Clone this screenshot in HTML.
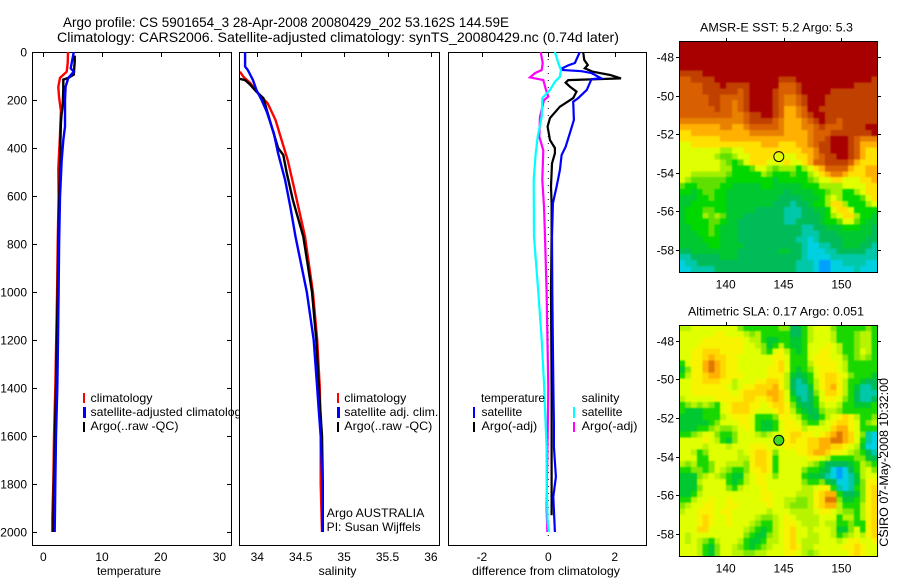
<!DOCTYPE html>
<html>
<head>
<meta charset="utf-8">
<title>Argo profile chart</title>
<style>
html,body{margin:0;padding:0;background:#fff;}
svg{display:block;}
text{font-family:"Liberation Sans",sans-serif;font-size:12px;fill:#000;}
.title{font-size:14px;}
</style>
</head>
<body>
<svg id="chart" xmlns="http://www.w3.org/2000/svg" width="900" height="580" viewBox="0 0 900 580">
<defs>
<clipPath id="clip-temp"><rect x="33" y="52" width="198" height="493"/></clipPath>
<clipPath id="clip-sal"><rect x="240" y="52" width="199" height="493"/></clipPath>
<clipPath id="clip-diff"><rect x="449" y="52" width="197" height="493"/></clipPath>
<clipPath id="clip-map-sst"><rect x="680" y="41" width="198" height="231"/></clipPath>
<clipPath id="clip-map-sla"><rect x="680" y="325" width="198" height="231"/></clipPath>
</defs>
<text class="title" x="63" y="27" textLength="446" lengthAdjust="spacingAndGlyphs">Argo profile: CS 5901654_3 28-Apr-2008 20080429_202 53.162S 144.59E</text>
<text class="title" x="57" y="42" textLength="562" lengthAdjust="spacingAndGlyphs">Climatology: CARS2006. Satellite-adjusted climatology: synTS_20080429.nc (0.74d later)</text>

<g id="panel-temp"></g>
<g id="legend-temp">
<rect x="83" y="393" width="2" height="10" fill="#ff0000"/>
<rect x="83" y="407" width="3" height="11" fill="#0000ff"/>
<rect x="83" y="422" width="2" height="10" fill="#000"/>
<text x="90.5" y="402" textLength="62" lengthAdjust="spacingAndGlyphs">climatology</text>
<text x="90.5" y="416" textLength="157" lengthAdjust="spacingAndGlyphs">satellite-adjusted climatology</text>
<text x="90.5" y="430" textLength="88" lengthAdjust="spacingAndGlyphs">Argo(..raw -QC)</text>
</g>
<text x="97" y="575" textLength="64" lengthAdjust="spacingAndGlyphs">temperature</text>

<g id="panel-sal"></g>
<g id="legend-sal">
<rect x="337" y="393" width="2" height="10" fill="#ff0000"/>
<rect x="337" y="407" width="3" height="11" fill="#0000ff"/>
<rect x="337" y="422" width="2" height="10" fill="#000"/>
<text x="344.3" y="402" textLength="62" lengthAdjust="spacingAndGlyphs">climatology</text>
<text x="344.3" y="416" textLength="94" lengthAdjust="spacingAndGlyphs">satellite adj. clim.</text>
<text x="344.3" y="430" textLength="88" lengthAdjust="spacingAndGlyphs">Argo(..raw -QC)</text>
<text x="326.7" y="517" textLength="97.7" lengthAdjust="spacingAndGlyphs">Argo AUSTRALIA</text>
<text x="326.7" y="531" textLength="94" lengthAdjust="spacingAndGlyphs">PI: Susan Wijffels</text>
</g>
<text x="318.5" y="575" textLength="38" lengthAdjust="spacingAndGlyphs">salinity</text>

<g id="panel-diff"></g>
<g id="legend-diff">
<text x="481" y="402" textLength="64" lengthAdjust="spacingAndGlyphs">temperature</text>
<text x="581.7" y="402" textLength="37.7" lengthAdjust="spacingAndGlyphs">salinity</text>
<rect x="473" y="407" width="2" height="11" fill="#0000ff"/>
<rect x="473" y="422" width="2" height="10" fill="#000"/>
<rect x="573" y="407" width="2" height="11" fill="#00ffff"/>
<rect x="573" y="422" width="2" height="10" fill="#ff00ff"/>
<text x="481.5" y="416" textLength="40.7" lengthAdjust="spacingAndGlyphs">satellite</text>
<text x="481.5" y="430" textLength="55.7" lengthAdjust="spacingAndGlyphs">Argo(-adj)</text>
<text x="581.7" y="416" textLength="40.7" lengthAdjust="spacingAndGlyphs">satellite</text>
<text x="581.7" y="430" textLength="55.7" lengthAdjust="spacingAndGlyphs">Argo(-adj)</text>
</g>
<text x="472" y="575" textLength="148" lengthAdjust="spacingAndGlyphs">difference from climatology</text>

<text x="700" y="31.5" textLength="153" lengthAdjust="spacingAndGlyphs">AMSR-E SST: 5.2 Argo: 5.3</text>
<g id="map-sst"></g>
<text x="688" y="315.5" textLength="176" lengthAdjust="spacingAndGlyphs">Altimetric SLA: 0.17 Argo: 0.051</text>
<g id="map-sla"></g>
<text transform="translate(888,546.7) rotate(-90)" x="0" y="0" textLength="168.7" lengthAdjust="spacingAndGlyphs">CSIRO 07-May-2008 10:32:00</text>
</svg>

<script>
const depthTicks = [0,200,400,600,800,1000,1200,1400,1600,1800,2000];
const tempTicks = [0,10,20,30];
const salTicks = [34,34.5,35,35.5,36];
const salTickLabels = ['34','34.5','35','35.5','36'];
const diffTicks = [-2,0,2];
const lonTicks = [140,145,150];
const latTicks = [-48,-50,-52,-54,-56,-58];

const tempClimDepth = [0,47,82,108,145,186,245,347,485,600,800,1000,1200,1400,1600,1800,1940,2000];
const tempClimValues = [4.2,4.15,3.98,2.85,2.56,2.67,3.0,2.85,2.56,2.6,2.45,2.35,2.2,2.05,1.82,1.7,1.53,1.53];
const tempArgoDepth = [15,40,94,108,115,156,226,260,295,392,485,600,800,1000,1200,1400,1600,1800,2000];
const tempArgoValues = [5.35,5.35,5.2,4.26,3.4,3.4,3.3,3.1,3.0,2.9,2.85,2.73,2.55,2.45,2.3,2.16,2.0,1.77,1.7];
const tempSatDepth = [0,68,82,108,145,200,311,367,450,603,800,1000,1200,1400,1600,1800,2000];
const tempSatValues = [5.2,4.67,5.2,4.26,3.8,3.7,3.7,3.4,3.13,2.85,2.7,2.6,2.5,2.39,2.17,2.05,1.94];

const salClimDepth = [82,103,130,172,214,283,367,450,561,672,769,1000,1200,1400,1600,1800,2000];
const salClimValues = [33.8,33.84,33.92,34.01,34.12,34.21,34.28,34.35,34.42,34.49,34.55,34.64,34.69,34.72,34.73,34.73,34.745];
const salArgoDepth = [112,117,137,165,192,242,317,400,429,505,617,769,1000,1200,1400,1600,1800,2000];
const salArgoValues = [33.8,33.86,33.92,33.99,34.07,34.11,34.17,34.24,34.3,34.34,34.41,34.53,34.63,34.68,34.71,34.745,34.755,34.755];
const salSatDepth = [0,61,75,117,158,200,249,338,422,533,644,769,1000,1200,1400,1500,1600,1800,2000];
const salSatValues = [33.86,33.86,33.89,33.95,33.99,34.05,34.11,34.19,34.24,34.32,34.38,34.44,34.57,34.65,34.69,34.71,34.73,34.75,34.75];

const diffZeroDepth = [0,2040];
const diffZeroValues = [0,0];
const diffSalArgoDepth = [0,46,75,88,106,117,158,186,200,269,353,410,533,644,769,1000,1400,1900,2000];
const diffSalArgoValues = [-0.23,-0.17,-0.2,-0.4,-0.55,-0.15,-0.07,0,-0.13,-0.25,-0.27,-0.15,-0.18,-0.13,-0.1,-0.05,0,-0.05,-0.03];
const diffSalSatDepth = [0,46,75,103,124,158,192,269,353,422,533,769,1000,1200,1380,1547,1645,1770,1960,2000];
const diffSalSatValues = [0.2,0.3,0.38,0.35,0.2,0.05,-0.18,-0.2,-0.32,-0.38,-0.44,-0.43,-0.3,-0.2,-0.13,-0.08,-0.05,-0.05,-0.02,0.02];
const diffTempArgoDepth = [0,33,54,68,82,96,110,117,128,144,165,192,228,275,311,367,400,422,464,561,630,769,1000,1400,1800,1930];
const diffTempArgoValues = [1.05,1.08,1.19,1.1,1.34,1.86,2.19,0.6,0.52,0.65,0.85,0.75,0.35,0.05,-0.02,0.05,0.2,0.2,0.11,0.08,0.1,0.1,0.08,0.1,0.1,0.1];
const diffTempSatDepth = [0,46,56,68,75,80,88,109,113,158,192,207,283,338,395,429,492,561,630,769,1000,1381,1547,1645,1770,1853,2000];
const diffTempSatValues = [0.95,0.8,0.6,0.42,0.42,1.0,1.3,1.59,1.3,1.16,0.9,0.75,0.77,0.65,0.52,0.4,0.35,0.25,0.14,0.11,0.12,0.15,0.17,0.17,0.23,0.15,0.2];

const sstLevelColors = ['#00a0ff','#00d0e0','#00c8a8','#00bc58','#00c830','#00d800','#60e000','#a0f000','#e0ff00','#ffe000','#ffb000','#e88000','#d86000','#c04000','#a80000'];
const slaLevelColors = ['#00a0ff','#00d0e0','#00c8a8','#00bc58','#00c830','#18d800','#80e800','#b8f400','#e0ff00','#f8f400','#ffd800','#ffb000','#e07800','#c04000','#a80000'];

const sstValues = [
[14,14,14,14,14,14,14,14,14,14,14,14,14,14,14,14,14,14,14,14,14,14,14,14,14,14,14,14,14,14,14,14,14,14],
[14,14,14,14,14,14,14,14,14,14,14,14,14,14,14,14,14,14,14,14,14,14,14,14,14,14,14,14,14,14,14,14,14,14],
[14,14,14,14,14,14,14,14,14,14,14,14,14,14,14,14,14,14,14,14,14,14,14,14,14,14,14,14,14,14,14,14,14,14],
[14,14,14,14,14,14,14,14,14,14,14,14,14,14,14,14,14,14,14,14,14,14,14,14,14,14,14,14,14,14,14,14,14,14],
[14,14,14,14,14,14,14,14,14,14,14,14,14,14,14,14,14,14,14,14,14,14,14,14,14,14,14,14,14,14,14,14,14,14],
[13,13,13,13,14,14,14,14,14,14,14,14,14,14,14,14,14,14,14,14,14,14,14,14,14,14,14,14,14,14,14,14,14,14],
[12,12,13,13,13,13,14,14,14,14,14,14,14,14,14,14,14,13,13,13,14,14,14,14,14,14,14,14,14,14,14,14,14,13],
[12,12,12,12,13,13,13,14,13,13,13,13,14,14,14,14,14,12,12,12,13,14,14,14,14,14,14,14,14,14,13,13,13,13],
[12,12,12,12,13,13,13,13,13,13,12,13,14,14,14,14,13,12,12,12,13,14,14,14,14,14,13,13,13,13,13,13,13,13],
[12,12,12,12,12,13,13,12,12,12,12,13,14,14,14,14,13,12,11,11,12,13,14,14,14,13,13,13,13,13,13,13,13,13],
[12,12,12,12,12,13,13,12,12,11,12,13,14,14,14,14,13,12,11,11,12,13,14,14,14,13,13,13,13,13,13,13,13,13],
[12,12,12,12,12,12,13,12,12,11,12,13,14,14,14,14,13,12,10,10,11,12,14,14,13,13,13,13,13,13,13,13,13,13],
[12,12,12,12,12,12,12,12,12,11,11,12,13,13,14,14,13,12,10,10,11,12,13,14,14,13,13,13,13,13,13,13,13,13],
[11,11,11,11,11,11,11,11,11,11,11,12,13,13,13,13,12,11,10,10,10,11,12,13,14,13,13,12,13,13,13,13,13,13],
[10,10,10,10,10,10,10,11,11,10,10,11,12,12,12,12,12,11,10,10,10,11,11,12,13,12,12,12,13,13,13,13,14,14],
[9,9,10,10,10,10,10,10,10,10,10,10,11,11,11,11,11,11,10,10,10,10,11,12,12,12,13,13,13,13,13,13,13,14],
[9,9,9,9,9,9,9,10,10,10,10,10,10,10,10,10,10,10,10,10,10,10,11,12,12,13,14,14,14,13,12,11,11,11],
[8,8,9,9,9,9,9,9,9,9,9,9,9,9,10,10,10,9,9,9,10,10,11,12,13,13,14,14,14,13,12,10,10,10],
[8,8,8,8,8,8,8,7,7,8,8,9,9,9,9,9,9,9,9,9,9,10,10,11,13,13,14,14,14,13,12,10,9,9],
[8,8,8,8,8,8,7,6,6,7,8,8,9,9,9,9,8,8,8,8,9,9,10,11,12,13,13,14,14,13,12,10,9,9],
[8,8,8,8,8,8,8,7,6,5,6,8,9,9,9,8,8,8,9,8,8,9,10,12,12,13,13,13,13,12,10,9,9,9],
[8,8,8,8,8,8,8,7,7,5,5,5,6,8,8,7,6,7,7,7,5,7,8,9,10,12,12,12,12,10,9,9,10,10],
[8,8,7,7,7,7,7,7,6,5,5,5,5,5,7,6,5,5,5,6,5,5,7,8,9,10,11,11,10,9,9,9,10,10],
[8,7,6,6,6,6,6,6,5,5,5,5,5,5,5,5,4,5,5,5,5,5,6,7,8,8,9,9,8,8,8,9,9,10],
[6,5,5,6,6,6,6,5,5,4,4,4,4,4,5,5,4,4,4,4,4,5,5,5,7,7,7,7,8,8,8,8,9,9],
[5,5,4,5,6,6,5,5,4,4,4,4,4,4,4,4,4,4,3,4,4,4,4,5,5,6,7,7,5,5,7,8,9,9],
[4,4,4,5,5,6,5,5,4,4,4,4,4,4,4,4,4,3,3,3,3,4,4,4,5,7,8,7,5,5,5,6,8,9],
[4,4,5,5,5,5,5,5,4,4,4,4,4,4,4,4,3,3,3,2,3,3,4,5,5,7,9,9,7,5,5,5,7,8],
[4,5,5,5,6,6,5,5,4,4,4,4,4,3,3,3,3,3,2,2,2,3,3,4,4,5,8,9,9,8,5,5,5,5],
[4,5,5,5,7,6,7,6,4,4,4,3,3,3,3,3,3,3,2,2,2,3,3,3,4,5,7,8,9,9,7,5,5,4],
[4,5,5,5,5,6,6,5,4,4,3,3,3,3,3,3,3,3,2,2,3,3,3,3,4,5,5,6,8,8,6,5,4,4],
[4,4,5,5,5,6,5,4,4,4,3,3,3,3,3,3,3,3,3,3,3,2,2,3,3,4,4,4,5,5,5,4,4,3],
[4,4,4,5,5,6,5,4,4,4,3,3,3,3,3,3,3,3,3,3,3,2,2,2,3,3,3,4,4,4,4,4,4,3],
[4,4,4,4,5,5,5,4,4,4,3,3,3,3,3,3,3,3,3,3,2,2,1,2,3,3,3,3,4,4,4,4,3,3],
[4,4,4,4,4,5,5,4,4,4,4,3,3,3,3,3,3,3,3,3,3,2,1,1,2,2,3,3,4,4,4,3,3,2],
[3,3,4,4,4,4,4,4,4,4,3,3,3,3,3,3,3,4,4,3,3,2,1,1,1,2,2,3,3,3,3,3,2,2],
[2,2,3,3,3,3,3,4,4,4,3,3,3,3,3,3,3,3,3,3,3,2,1,1,1,1,2,2,2,2,2,2,2,2],
[1,2,2,3,3,3,3,3,3,3,3,3,3,3,3,3,3,3,3,3,2,2,2,1,0,0,1,1,2,2,2,2,1,1],
[1,1,2,2,2,2,3,3,3,3,3,3,3,3,3,3,3,3,3,3,2,2,2,1,0,0,1,1,1,1,2,1,1,1]
];

const slaValues = [
[7,7,8,8,8,8,8,8,8,8,6,5,5,5,5,5,5,6,6,3,3,5,7,8,8,8,6,5,5,5,5,5,6,5],
[8,8,8,8,8,8,9,9,8,8,8,7,6,7,5,5,5,5,5,3,3,5,7,8,8,8,7,5,5,5,6,7,7,5],
[8,8,8,8,9,9,9,9,9,9,9,8,7,7,5,4,4,5,5,4,4,5,7,8,8,8,7,5,5,5,6,7,7,5],
[8,8,8,9,9,9,9,9,9,9,9,8,8,7,6,4,5,7,5,4,4,5,8,8,8,9,8,7,5,5,6,7,7,5],
[8,8,9,9,10,10,10,9,9,9,9,8,8,8,6,5,8,9,7,5,4,5,8,8,9,9,8,7,5,5,6,8,7,5],
[8,8,9,9,10,11,10,10,9,9,8,8,8,8,8,8,9,9,8,5,5,5,8,9,9,9,8,8,6,5,6,7,6,5],
[5,8,9,9,11,12,11,10,9,9,8,8,8,8,8,8,9,10,8,5,5,5,7,9,9,9,9,8,7,5,5,5,5,5],
[4,6,9,9,11,12,11,10,9,9,8,8,8,8,8,9,9,10,8,5,4,5,6,8,9,9,9,8,7,5,5,5,5,5],
[5,7,9,9,10,11,11,10,9,9,9,8,8,8,8,9,9,9,7,4,3,4,5,8,9,10,10,9,8,6,5,5,5,4],
[8,8,9,9,10,10,10,9,9,7,8,8,8,9,9,10,10,9,7,3,2,3,5,7,9,10,10,9,7,5,5,4,3,3],
[8,8,9,9,9,9,9,9,8,7,8,9,9,10,10,10,11,9,7,3,2,2,4,7,9,10,11,9,7,5,4,2,2,3],
[8,8,9,9,9,9,9,9,9,8,9,10,10,10,10,11,11,10,8,4,2,2,3,6,8,10,10,9,7,5,3,2,2,2],
[7,8,8,8,8,8,9,9,9,9,9,10,10,9,9,10,11,10,8,5,3,2,3,5,8,9,9,8,6,5,3,2,2,3],
[5,6,7,6,7,6,5,8,9,10,10,10,9,9,8,9,10,10,9,6,4,3,3,5,7,8,8,7,5,5,4,4,4,5],
[5,4,4,4,5,5,5,8,9,10,10,10,9,8,8,8,9,10,9,7,5,4,3,4,6,7,7,6,5,5,5,5,5,5],
[4,4,4,4,5,5,5,7,8,9,9,9,8,5,5,5,6,9,9,8,7,5,4,3,5,7,8,9,10,9,7,5,5,6],
[4,4,4,4,4,5,6,8,8,8,9,9,8,5,4,4,5,8,9,9,8,6,5,5,7,8,9,10,10,9,8,5,6,7],
[4,4,4,5,5,6,7,6,6,7,8,9,8,5,4,4,5,8,9,9,9,7,8,8,8,8,10,11,11,9,8,5,5,5],
[5,5,6,7,8,8,6,5,5,6,8,8,8,7,6,7,8,8,9,10,10,9,9,8,9,10,11,12,11,10,8,6,2,1],
[8,8,8,8,9,8,7,5,4,6,8,8,8,8,8,8,8,9,9,10,9,9,10,10,11,11,12,12,11,10,8,5,2,1],
[8,8,8,8,7,8,8,8,7,8,8,8,9,9,9,8,8,8,9,9,9,9,10,10,11,11,10,10,9,8,7,4,1,1],
[8,8,7,5,6,8,8,8,8,8,7,8,9,10,10,9,6,8,8,8,9,9,10,11,11,10,9,9,8,7,6,5,3,2],
[8,8,8,5,5,8,8,8,8,8,7,7,9,10,10,9,5,8,8,8,8,8,9,9,8,7,5,5,5,5,6,6,4,3],
[7,6,7,5,5,6,8,8,7,7,7,6,9,10,10,9,5,8,8,8,8,8,7,6,5,3,3,3,3,4,5,7,6,5],
[5,5,6,6,5,6,8,7,6,5,5,6,9,9,10,9,5,8,8,8,8,6,5,5,4,3,1,0,1,3,5,7,8,6],
[4,4,4,6,7,8,7,6,5,4,4,7,8,9,9,8,6,8,8,8,8,5,4,4,3,2,1,0,1,2,4,7,8,8],
[4,4,4,7,8,8,8,8,5,4,5,7,8,9,9,8,8,8,8,8,8,6,5,5,6,4,3,1,1,2,4,6,9,9],
[4,4,4,6,8,8,8,8,6,5,7,8,8,8,9,8,8,8,8,8,8,7,7,8,9,9,5,2,1,2,5,6,9,10],
[4,4,5,7,8,8,8,8,8,8,8,8,8,8,9,9,8,8,8,8,7,7,7,9,10,11,11,5,3,3,4,6,9,10],
[5,5,7,8,8,9,8,8,9,8,8,8,8,8,9,9,8,8,7,7,6,6,7,9,10,12,12,6,4,4,5,6,9,10],
[6,7,8,8,9,9,8,8,9,9,8,8,8,8,8,9,8,8,7,6,6,6,7,9,10,11,11,7,5,5,5,7,9,10],
[7,8,8,9,9,9,8,9,9,8,8,8,8,8,8,7,8,8,8,7,7,7,7,8,9,9,8,7,6,6,5,7,9,10],
[8,8,8,9,10,9,8,8,9,8,8,8,8,7,6,6,7,8,9,8,7,7,7,7,8,8,8,5,7,7,5,7,9,10],
[8,8,8,9,10,9,8,8,9,8,8,8,7,6,5,5,7,8,9,9,8,7,7,7,8,7,7,5,5,6,5,5,9,10],
[8,8,8,10,10,8,8,8,8,8,8,7,6,5,4,5,7,8,9,10,8,8,7,8,8,8,7,4,4,6,8,5,9,10],
[8,7,8,8,8,8,8,8,8,8,8,6,5,4,4,6,7,8,9,10,8,8,7,7,8,8,7,5,6,7,8,7,9,10],
[8,7,8,7,6,5,7,8,8,8,7,5,4,4,5,7,7,8,9,10,8,7,7,7,8,8,8,7,8,9,9,8,8,9],
[8,8,8,7,5,4,6,8,8,7,6,5,4,5,6,7,8,8,9,10,9,7,7,8,8,8,8,8,9,9,10,9,8,8],
[8,8,8,7,5,4,6,8,8,7,7,6,6,7,7,8,8,8,9,9,8,7,6,7,8,8,8,8,8,9,10,9,8,8]
];

const argoLon = 144.59;
const argoLat = -53.162;

const SVGNS = 'http://www.w3.org/2000/svg';
function depthY(d){ return 52 + 0.24 * d; }
function tempX(v){ return 43.3 + 5.87 * v; }
function salX(v){ return 257.3 + 86.8 * (v - 34); }
function diffX(v){ return 548.3 + 33.2 * v; }
function lonX(v){ return 725.7 + 11.57 * (v - 140); }
function make(tag, attrs){
  const el = document.createElementNS(SVGNS, tag);
  for (const k in attrs) el.setAttribute(k, attrs[k]);
  return el;
}

function drawBox(parent, x0, y0, x1, y1, fillWhite){
  const box = make('rect', {x:x0, y:y0, width:x1-x0, height:y1-y0, fill:fillWhite?'#fff':'none', stroke:'#000', 'stroke-width':1, 'shape-rendering':'crispEdges'});
  
  
  parent.appendChild(box);
}
function tick(parent, x1, y1, x2, y2){
  const t = make('line', {x1:x1, y1:y1, x2:x2, y2:y2, stroke:'#000', 'stroke-width':1, 'shape-rendering':'crispEdges'});
  
  
  parent.appendChild(t);
}
function label(parent, x, y, str, anchor){
  const t = make('text', {x:x, y:y, 'text-anchor':anchor});
  t.textContent = str;
  
  
  parent.appendChild(t);
}
function series(parent, name, clip, xFn, depths, values, color, width, dash){
  const pts = depths.map(function(d, i){ return xFn(values[i]).toFixed(1) + ',' + depthY(d).toFixed(1); }).join(' ');
  const line = make('polyline', {points:pts, fill:'none', stroke:color, 'stroke-width':width, 'stroke-linejoin':'miter', 'clip-path':'url(#' + clip + ')'});
  if (dash) line.setAttribute('stroke-dasharray', dash);
  
  
  parent.appendChild(line);
}

const pTemp = document.getElementById('panel-temp');
drawBox(pTemp, 32.5, 52.5, 231.5, 545.5, true);
depthTicks.forEach(function(d){
  const y = Math.round(depthY(d)) + 0.5;
  tick(pTemp, 33, y, 37, y);
  tick(pTemp, 227, y, 231, y);
  label(pTemp, 27, y + 4, String(d), 'end');
});
tempTicks.forEach(function(v){
  const x = Math.round(tempX(v)) + 0.5;
  tick(pTemp, x, 53, x, 57);
  label(pTemp, tempX(v), 561, String(v), 'middle');
});
series(pTemp, 'temperature-climatology-line', 'clip-temp', tempX, tempClimDepth, tempClimValues, '#ff0000', 2.4);
series(pTemp, 'temperature-argo-line', 'clip-temp', tempX, tempArgoDepth, tempArgoValues, '#000000', 2.4);
series(pTemp, 'temperature-satellite-line', 'clip-temp', tempX, tempSatDepth, tempSatValues, '#0000ff', 2.4);

const pSal = document.getElementById('panel-sal');
drawBox(pSal, 239.5, 52.5, 439.5, 545.5, true);
salTicks.forEach(function(v, i){
  const x = Math.round(salX(v)) + 0.5;
  tick(pSal, x, 53, x, 57);
  label(pSal, salX(v), 561, salTickLabels[i], 'middle');
});
series(pSal, 'salinity-climatology-line', 'clip-sal', salX, salClimDepth, salClimValues, '#ff0000', 2.4);
series(pSal, 'salinity-argo-line', 'clip-sal', salX, salArgoDepth, salArgoValues, '#000000', 2.4);
series(pSal, 'salinity-satellite-line', 'clip-sal', salX, salSatDepth, salSatValues, '#0000ff', 2.4);

const pDiff = document.getElementById('panel-diff');
drawBox(pDiff, 448.5, 52.5, 646.5, 545.5, true);
diffTicks.forEach(function(v){
  const x = Math.round(diffX(v)) + 0.5;
  tick(pDiff, x, 53, x, 57);
  label(pDiff, diffX(v), 561, String(v), 'middle');
});
series(pDiff, 'zero-reference-line', 'clip-diff', diffX, diffZeroDepth, diffZeroValues, '#000000', 1, '1 6');
series(pDiff, 'difference-temp-argo-line', 'clip-diff', diffX, diffTempArgoDepth, diffTempArgoValues, '#000000', 2.2);
series(pDiff, 'difference-temp-satellite-line', 'clip-diff', diffX, diffTempSatDepth, diffTempSatValues, '#0000ff', 2.2);
series(pDiff, 'difference-sal-argo-line', 'clip-diff', diffX, diffSalArgoDepth, diffSalArgoValues, '#ff00ff', 2.2);
series(pDiff, 'difference-sal-satellite-line', 'clip-diff', diffX, diffSalSatDepth, diffSalSatValues, '#00ffff', 2.2);

function drawMap(groupId, clipId, values, colors, cellName, top, bottom, lat48Y, markerFill){
  const g = document.getElementById(groupId);
  const latY = function(v){ return lat48Y + 19.3 * (-48 - v); };
  const topLat = -48 + (lat48Y - top) / 19.3;
  const cellLat = (bottom - top) / 19.3 / values.length;
  const cellLon = 17.1 / 34;
  const clipG = make('g', {'clip-path':'url(#' + clipId + ')'});
  
  
  g.appendChild(clipG);
  const cellsG = make('g', {style:'filter:blur(0.9px)'});
  
  
  clipG.appendChild(cellsG);
  values.forEach(function(row, r){
    row.forEach(function(v, c){
      const x0 = lonX(136 + c * cellLon);
      const x1 = lonX(136 + (c + 1) * cellLon);
      const y0 = latY(topLat - r * cellLat);
      const y1 = latY(topLat - (r + 1) * cellLat);
      const cell = make('rect', {x:(c === 0 ? x0 - 3 : x0).toFixed(2), y:(r === 0 ? y0 - 3 : y0).toFixed(2), width:(x1-x0+(c === 0 || c === row.length - 1 ? 3.4 : 0.4)).toFixed(2), height:(y1-y0+(r === 0 || r === values.length - 1 ? 3.4 : 0.4)).toFixed(2), fill:colors[v], 'shape-rendering':'crispEdges'});
      
      
      cellsG.appendChild(cell);
    });
  });
  drawBox(g, 679.5, top + 0.5, 877.5, bottom + 0.5, false);
  lonTicks.forEach(function(v){
    const x = Math.round(lonX(v)) + 0.5;
    tick(g, x, top - 3, x, top);
    label(g, lonX(v), bottom + 16.5, String(v), 'middle');
  });
  latTicks.forEach(function(v){
    const y = Math.round(latY(v)) + 0.5;
    tick(g, 676, y, 679, y);
    tick(g, 878, y, 881, y);
    label(g, 674, y + 4, String(v), 'end');
  });
  const marker = make('circle', {cx:lonX(argoLon).toFixed(1), cy:latY(argoLat).toFixed(1), r:5, fill:markerFill, stroke:'#000', 'stroke-width':1});
  
  
  g.appendChild(marker);
}
drawMap('map-sst', 'clip-map-sst', sstValues, sstLevelColors, 'sst-cell', 41, 272, 57, 'none');
drawMap('map-sla', 'clip-map-sla', slaValues, slaLevelColors, 'sla-cell', 325, 556, 340.7, '#40d820');
</script>
</body>
</html>
